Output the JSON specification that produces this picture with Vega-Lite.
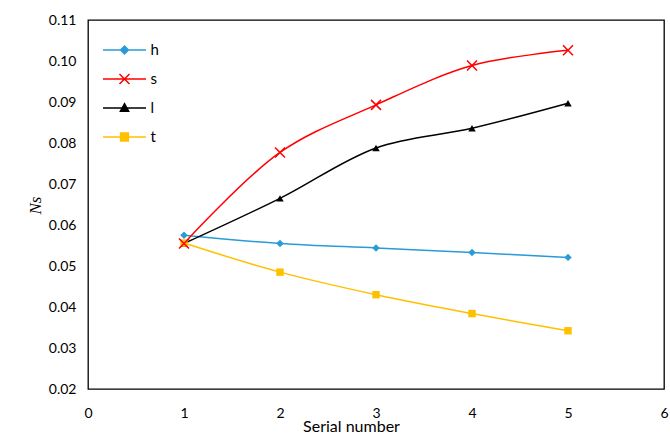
{
  "$schema": "https://vega.github.io/schema/vega-lite/v6.json",
  "width": 576,
  "height": 369,
  "autosize": {"type": "none"},
  "padding": {"left": 88, "top": 20, "right": 6, "bottom": 45},
  "background": "white",
  "config": {
    "view": {"stroke": "black", "strokeWidth": 1.3},
    "axis": {"grid": false, "ticks": false, "domain": false, "labelFont": "Lato", "labelFontSize": 14, "labelColor": "black", "labelFontWeight": "normal"}
  },
  "data": {"values": [
    {"series": "h", "x": 1, "y": 0.0575},
    {"series": "h", "x": 2, "y": 0.0555},
    {"series": "h", "x": 3, "y": 0.0544},
    {"series": "h", "x": 4, "y": 0.0533},
    {"series": "h", "x": 5, "y": 0.0521},
    {"series": "s", "x": 1, "y": 0.0555},
    {"series": "s", "x": 2, "y": 0.0777},
    {"series": "s", "x": 3, "y": 0.0893},
    {"series": "s", "x": 4, "y": 0.0989},
    {"series": "s", "x": 5, "y": 0.1026},
    {"series": "l", "x": 1, "y": 0.0555},
    {"series": "l", "x": 2, "y": 0.0665},
    {"series": "l", "x": 3, "y": 0.0788},
    {"series": "l", "x": 4, "y": 0.0836},
    {"series": "l", "x": 5, "y": 0.0897},
    {"series": "t", "x": 1, "y": 0.0556},
    {"series": "t", "x": 2, "y": 0.0485},
    {"series": "t", "x": 3, "y": 0.0430},
    {"series": "t", "x": 4, "y": 0.0384},
    {"series": "t", "x": 5, "y": 0.0342}
  ]},
  "encoding": {
    "x": {"field": "x", "type": "quantitative",
      "scale": {"domain": [0, 6], "nice": false, "zero": false},
      "axis": {"values": [0, 1, 2, 3, 4, 5, 6], "labelPadding": 17, "labelFlush": false, "labelBound": false, "title": "Serial number",
        "titleFont": "Lato", "titleFontSize": 16, "titleFontWeight": "normal", "titleColor": "black",
        "titleX": 263, "titleY": 37, "titleBaseline": "middle", "titleAnchor": null}},
    "y": {"field": "y", "type": "quantitative",
      "scale": {"domain": [0.02, 0.11], "nice": false, "zero": false},
      "axis": {"values": [0.02, 0.03, 0.04, 0.05, 0.06, 0.07, 0.08, 0.09, 0.10, 0.11], "format": ".2f", "labelPadding": 12,
        "title": "Ns", "titleFont": "Liberation Serif", "titleFontStyle": "italic", "titleFontSize": 17, "titleFontWeight": "normal", "titleColor": "black",
        "titleX": -53, "titleY": 185, "titleAngle": -90, "titleBaseline": "middle", "titleAlign": "center"}},
    "color": {"field": "series", "type": "nominal",
      "scale": {"domain": ["h", "s", "l", "t"], "range": ["#2A9AD8", "#FF0000", "#000000", "#FFC000"]}}
  },
  "layer": [
    {
      "mark": {"type": "line", "interpolate": "catmull-rom", "strokeWidth": 1.5},
      "encoding": {
        "color": {"field": "series", "type": "nominal",
          "scale": {"domain": ["h", "s", "l", "t"], "range": ["#2A9AD8", "#FF0000", "#000000", "#FFC000"]},
          "legend": {"orient": "none", "legendX": 14, "legendY": 19, "title": null, "padding": 0,
            "symbolSize": 400, "symbolOffset": 11.5, "labelOffset": 15, "rowPadding": 10,
            "labelFont": "Lato", "labelFontSize": 15, "labelColor": "black",
            "encode": {"symbols": {"update": {
              "shape": {"signal": "datum.value==='h' ? 'M-2.15,0L2.15,0M0,-0.39L0.39,0L0,0.39L-0.39,0Z' : datum.value==='s' ? 'M-2.15,0L2.15,0M-0.5,-0.5L0.5,0.5M-0.5,0.5L0.5,-0.5' : datum.value==='l' ? 'M-2.15,0L2.15,0M0,-0.43L0.41,0.32L-0.41,0.32Z' : 'M-2.15,0L2.15,0M-0.39,-0.39L0.39,-0.39L0.39,0.39L-0.39,0.39Z'"},
              "fill": {"signal": "datum.value==='h' ? '#2A9AD8' : datum.value==='s' ? 'transparent' : datum.value==='l' ? '#000000' : '#FFC000'"},
              "stroke": {"signal": "datum.value==='h' ? '#2A9AD8' : datum.value==='s' ? '#FF0000' : datum.value==='l' ? '#000000' : '#FFC000'"},
              "strokeWidth": {"value": 1.5},
              "opacity": {"value": 1}
            }}}}}
      }
    },
    {
      "transform": [{"filter": "datum.series !== 's'"}],
      "mark": {"type": "point", "filled": true, "opacity": 1, "size": 55},
      "encoding": {
        "shape": {"field": "series", "type": "nominal",
          "scale": {"domain": ["h", "l", "t"], "range": ["diamond", "triangle-up", "square"]},
          "legend": null}
      }
    },
    {
      "transform": [{"filter": "datum.series === 's'"}],
      "mark": {"type": "point", "filled": false, "opacity": 1, "size": 100, "strokeWidth": 1.5, "shape": "M-1,-1L1,1M-1,1L1,-1"}
    }
  ]
}
